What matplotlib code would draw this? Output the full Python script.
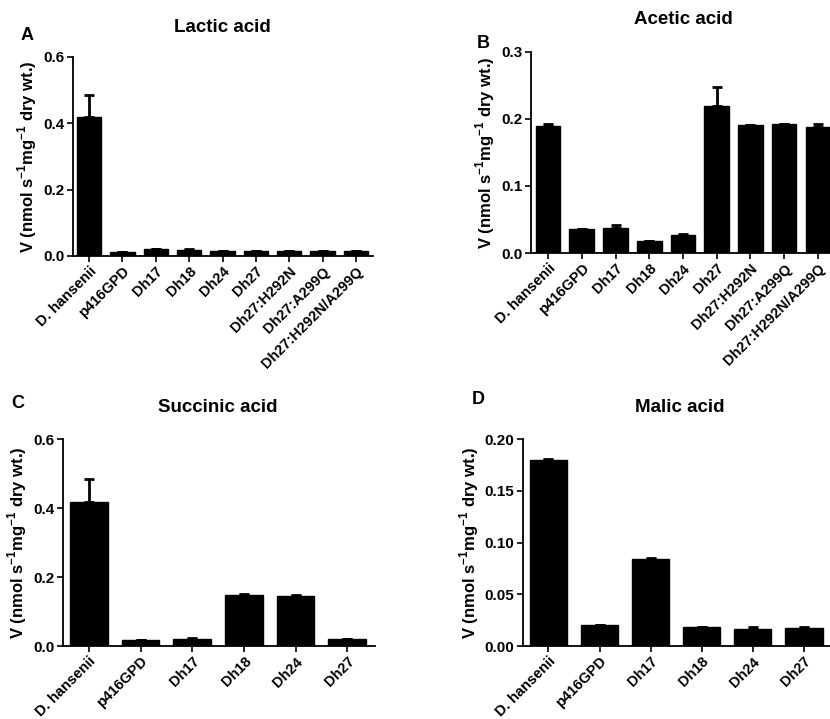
import matplotlib
matplotlib.use("Agg")
import matplotlib.pyplot as plt

plt.rcParams["font.family"] = ["Liberation Sans", "DejaVu Sans"]
plt.rcParams["font.weight"] = "bold"
plt.rcParams["mathtext.fontset"] = "custom"
plt.rcParams["mathtext.rm"] = "Liberation Sans:bold"
plt.rcParams["mathtext.bf"] = "Liberation Sans:bold"

strains_long = ["D. hansenii", "p416GPD", "Dh17", "Dh18", "Dh24", "Dh27",
                "Dh27:H292N", "Dh27:A299Q", "Dh27:H292N/A299Q"]
strains_short = ["D. hansenii", "p416GPD", "Dh17", "Dh18", "Dh24", "Dh27"]

lactic = [0.42, 0.012, 0.020, 0.019, 0.014, 0.015, 0.015, 0.015, 0.014]
lactic_err = [0.065, 0.0, 0.001, 0.001, 0.0, 0.0, 0.0, 0.0, 0.001]

acetic = [0.190, 0.036, 0.038, 0.018, 0.027, 0.219, 0.191, 0.192, 0.188]
acetic_err = [0.003, 0.0, 0.004, 0.0, 0.002, 0.029, 0.0, 0.001, 0.005]

succinic = [0.418, 0.018, 0.021, 0.147, 0.146, 0.020]
succinic_err = [0.068, 0.0, 0.001, 0.005, 0.003, 0.0]

malic = [0.1795, 0.020, 0.0845, 0.018, 0.016, 0.017]
malic_err = [0.001, 0.0, 0.001, 0.0, 0.002, 0.001]

ylabel = r"V (nmol s$^{\mathbf{-1}}$mg$^{\mathbf{-1}}$ dry wt.)"

fig = plt.figure(figsize=(8.3, 7.19), dpi=100)

panels = [
    # rect, labels, values, errors, title, letter, ylim, yticks, xlim, title pos, letter pos
    ([0.088, 0.644, 0.361, 0.277], strains_long, lactic, lactic_err, "Lactic acid", "A",
     0.6, [0.0, 0.2, 0.4, 0.6], "{:.1f}", (-0.48, 8.5), (222, 27), (27, 36)),
    ([0.640, 0.648, 0.360, 0.280], strains_long, acetic, acetic_err, "Acetic acid", "B",
     0.3, [0.0, 0.1, 0.2, 0.3], "{:.1f}", (-0.5, 8.36), (683, 20), (483, 43)),
    ([0.076, 0.1015, 0.376, 0.2875], strains_short, succinic, succinic_err, "Succinic acid", "C",
     0.6, [0.0, 0.2, 0.4, 0.6], "{:.1f}", (-0.5, 5.54), (218, 407), (18, 403)),
    ([0.630, 0.1015, 0.370, 0.2875], strains_short, malic, malic_err, "Malic acid", "D",
     0.2, [0.0, 0.05, 0.10, 0.15, 0.20], "{:.2f}", (-0.5, 5.51), (680, 407), (478, 400)),
]

for rect, labels, vals, errs, title, letter, ymax, yticks, fmt, xlim, tpos, lpos in panels:
    ax = fig.add_axes(rect)
    x = list(range(len(labels)))
    ax.bar(x, vals, width=0.73, color="black", edgecolor="black")
    ax.errorbar(x, vals, yerr=[[0] * len(errs), errs], fmt="none",
                ecolor="black", elinewidth=2.0, capsize=3.5, capthick=2.0)
    ax.set_ylim(0, ymax)
    ax.set_xlim(*xlim)
    ax.set_yticks(yticks)
    ax.set_yticklabels([fmt.format(t) for t in yticks], fontsize=11, fontweight="bold")
    ax.set_xticks(x)
    ax.set_xticklabels(labels, rotation=45, ha="right", rotation_mode="anchor",
                       fontsize=10.5, fontweight="bold")
    ax.set_ylabel(ylabel, fontsize=12, fontweight="bold", labelpad=3)
    for s in ["top", "right"]:
        ax.spines[s].set_visible(False)
    for s in ["left", "bottom"]:
        ax.spines[s].set_linewidth(1.3)
    ax.tick_params(direction="out", length=4, width=1.2, pad=2)
    ax.spines["bottom"].set_clip_on(False)
    fig.text(tpos[0] / 830, 1 - tpos[1] / 719, title, ha="center", va="center",
             fontsize=13.5, fontweight="bold")
    fig.text(lpos[0] / 830, 1 - lpos[1] / 719, letter, ha="center", va="center",
             fontsize=13, fontweight="bold")

fig.savefig("out.png", dpi=100)
